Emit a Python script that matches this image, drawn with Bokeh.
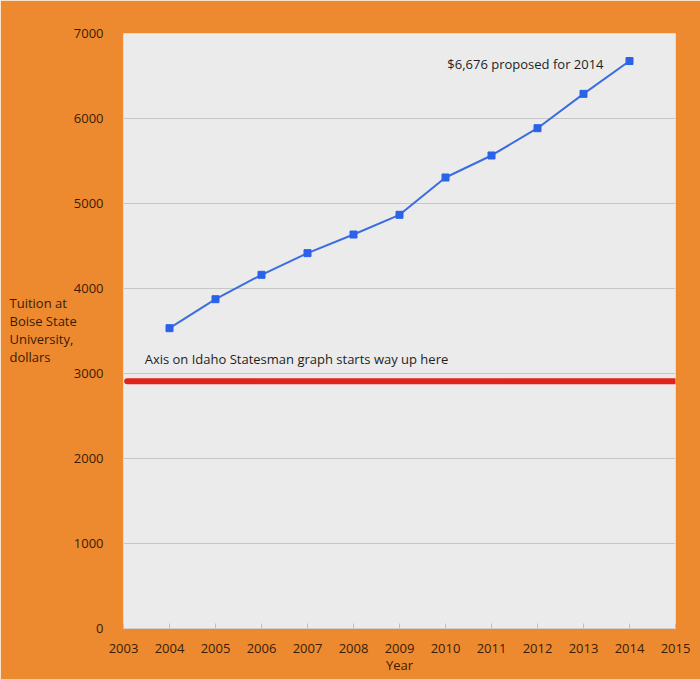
from bokeh.plotting import figure
from bokeh.models import Range1d, FixedTicker, Label
from bokeh.core.properties import value
from bokeh.embed import file_html
from bokeh.resources import INLINE

# ---- data ----
years = [2004, 2005, 2006, 2007, 2008, 2009, 2010, 2011, 2012, 2013, 2014]
tuition = [3533, 3874, 4161, 4416, 4635, 4867, 5306, 5565, 5886, 6290, 6676]
x_ticks = list(range(2003, 2016))
y_ticks = [0, 1000, 2000, 3000, 4000, 5000, 6000, 7000]
statesman_axis_start = 2910
statesman_x = [2003.08, 2014.98]
ylabel_lines = ["Tuition at", "Boise State", "University,", "dollars"]

ORANGE = "#ED8A2F"
TXT = "#3A1C06"
FONT = "Open Sans"

p = figure(width=700, height=679, frame_width=552, frame_height=595,
           output_backend="svg", toolbar_location=None,
           x_range=Range1d(2003, 2015), y_range=Range1d(0, 7000),
           min_border_left=123, min_border_right=25,
           min_border_top=33, min_border_bottom=51)
p.background_fill_color = "#EBEBEB"
p.border_fill_color = ORANGE
p.outline_line_color = None

p.xgrid.grid_line_color = None
p.ygrid.grid_line_color = "#C6C6C6"
p.ygrid.grid_line_width = 1

p.xaxis.ticker = FixedTicker(ticks=x_ticks)
p.yaxis.ticker = FixedTicker(ticks=y_ticks)
for ax in (p.xaxis, p.yaxis):
    ax.major_label_text_font = FONT
    ax.major_label_text_font_size = "13px"
    ax.major_label_text_color = TXT
    ax.minor_tick_line_color = None

p.yaxis.axis_line_color = None
p.yaxis.major_tick_line_color = None
p.yaxis.major_label_standoff = 14

p.xaxis.axis_line_color = "#D0D0D0"
p.xaxis.major_tick_line_color = "#C0C0C0"
p.xaxis.major_tick_in = 5
p.xaxis.major_tick_out = 0
p.xaxis.major_label_standoff = 15
p.xaxis.axis_label = "Year"
p.xaxis.axis_label_text_font = FONT
p.xaxis.axis_label_text_font_size = "13px"
p.xaxis.axis_label_text_font_style = "normal"
p.xaxis.axis_label_text_color = TXT
p.xaxis.axis_label_standoff = 0

# red reference line
p.line(statesman_x, [statesman_axis_start, statesman_axis_start],
       line_color="#E0231B", line_width=6, line_cap="round")

# tuition series
p.line(years, tuition, line_color="#3A6DE2", line_width=2)
p.scatter(years, tuition, marker="square", size=7,
          fill_color="#2B62E8", line_color="#2B62E8")

# annotations
p.text(x=[2003.46], y=[3165],
       text=["Axis on Idaho Statesman graph starts way up here"],
       text_font=value(FONT), text_font_size="13px", text_color="#1E1E1E",
       text_align="left", text_baseline="middle")
p.text(x=[2010.04], y=[6644], text=["$6,676 proposed for 2014"],
       text_font=value(FONT), text_font_size="13px", text_color="#1E1E1E",
       text_align="left", text_baseline="middle")

# y-axis title block placed in a left side panel
p.add_layout(Label(x=6, y=299, x_units="screen", y_units="screen",
                   text="\n".join(ylabel_lines), text_font=FONT,
                   text_font_size="13px", text_color=TXT,
                   text_align="left", text_baseline="middle",
                   text_line_height=1.0), "left")

open("out.html", "w").write(file_html(p, INLINE))
